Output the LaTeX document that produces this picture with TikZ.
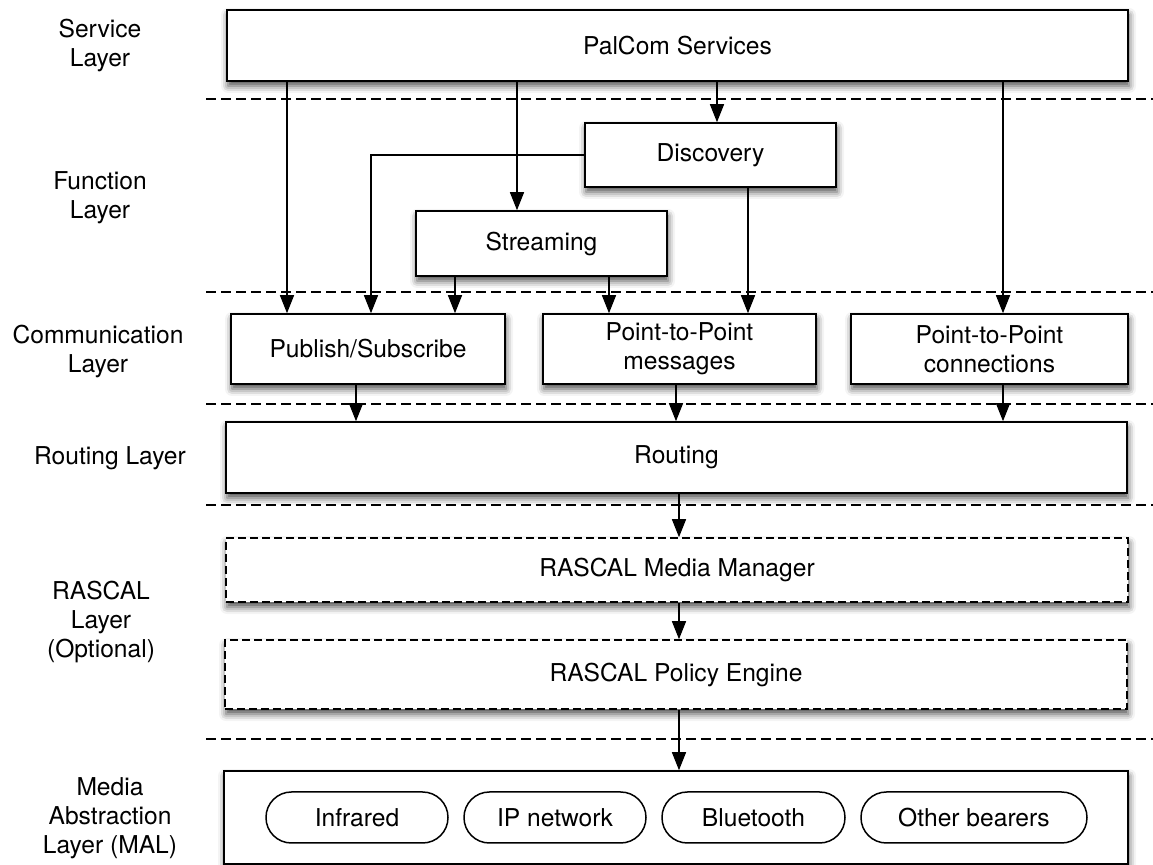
\documentclass[tikz,border=0pt]{standalone}
\usepackage{fontspec}
\setmainfont{TeX Gyre Heros}
\usetikzlibrary{arrows.meta, shadows.blur}

\tikzset{
  layerbox/.style={draw, line width=0.8pt, fill=white, inner sep=0pt, align=center,
    blur shadow={shadow xshift=0.5pt, shadow yshift=-2.5pt, shadow blur radius=3.5pt, shadow opacity=70}},
  optbox/.style={layerbox, dash pattern=on 4pt off 2pt},
  bearer/.style={draw, line width=0.75pt, rounded corners=12.7pt, minimum height=25.5pt, inner sep=0pt},
  layerlabel/.style={align=center},
  sep/.style={line width=0.7pt, dash pattern=on 5pt off 2.5pt},
  arr/.style={line width=0.75pt, -{Triangle[length=9pt,width=7pt]}}
}

\begin{document}
\begin{tikzpicture}[x=0.5pt, y=-0.5pt, font=\fontsize{12.3}{14.5}\selectfont]
			\useasboundingbox (0,0) rectangle (1153,865);
			
			% layer labels
			\node[layerlabel] at(100,46) (lsvc) {Service\\Layer};
			\node[layerlabel] at(100,198) (lfun) {Function\\Layer};
			\node[layerlabel] at(98,351) (lcom) {Communication\\Layer};
			\node[layerlabel] at(110,458) (lrout) {Routing Layer};
			\node[layerlabel] at(101,622) (lras) {RASCAL\\Layer\\(Optional)};
			\node[layerlabel] at(110,818) (lmal) {Media\\Abstraction\\Layer (MAL)};
			
			% boxes
			\node[layerbox, minimum width=450.5pt, minimum height=35.5pt] at(677.5,45.5) (svc) {PalCom Services};
			\node[layerbox, minimum width=125.5pt, minimum height=32pt] at(710.5,155) (disc) {Discovery};
			\node[layerbox, minimum width=125.5pt, minimum height=32.5pt] at(541.5,243.5) (strm) {Streaming};
			\node[layerbox, minimum width=137pt, minimum height=35pt] at(368,349) (pubsub) {Publish/Subscribe};
			\node[layerbox, minimum width=136.5pt, minimum height=35pt] at(679.5,349) (ptpmsg) {Point-to-Point\\messages};
			\node[layerbox, minimum width=138.5pt, minimum height=35pt] at(989.5,349) (ptpconn) {Point-to-Point\\connections};
			\node[layerbox, minimum width=450.5pt, minimum height=35.5pt] at(676.5,457.5) (rout) {Routing};
			\node[optbox, minimum width=451pt, minimum height=32pt] at(677,570) (rmm) {RASCAL Media Manager};
			\node[optbox, minimum width=451pt, minimum height=34.5pt] at(676,674.5) (rpe) {RASCAL Policy Engine};
			\node[layerbox, minimum width=452pt, minimum height=46.5pt] at(676,817.5) (mal) {};
			
			\node[bearer, minimum width=91pt] at(357,817.5) (ir) {Infrared};
			\node[bearer, minimum width=91pt] at(555,817.5) (ip) {IP network};
			\node[bearer, minimum width=91.5pt] at(753.5,817.5) (bt) {Bluetooth};
			\node[bearer, minimum width=113pt] at(974,817.5) (other) {Other bearers};
			
			% layer separators
			\foreach \y in {99,292,404,505,739}
				\draw[sep] (206,\y) -- (1153,\y);
			
			% arrow columns
			\coordinate (c1) at (287,0);
			\coordinate (c2) at (371,0);
			\coordinate (c3) at (455,0);
			\coordinate (c4) at (517,0);
			\coordinate (c5) at (609,0);
			\coordinate (c6) at (717,0);
			\coordinate (c7) at (748,0);
			\coordinate (c8) at (1003,0);
			\coordinate (c9) at (356,0);
			\coordinate (c10) at (676,0);
			\coordinate (c11) at (679,0);
			
			\draw[arr] (svc.south -| c1) -- (pubsub.north -| c1);
			\draw[arr] (svc.south -| c4) -- (strm.north -| c4);
			\draw[arr] (svc.south -| c6) -- (disc.north -| c6);
			\draw[arr] (svc.south -| c8) -- (ptpconn.north -| c8);
			\draw[arr] (disc.west) -| (pubsub.north -| c2);
			\draw[arr] (disc.south -| c7) -- (ptpmsg.north -| c7);
			\draw[arr] (strm.south -| c3) -- (pubsub.north -| c3);
			\draw[arr] (strm.south -| c5) -- (ptpmsg.north -| c5);
			\draw[arr] (pubsub.south -| c9) -- (rout.north -| c9);
			\draw[arr] (ptpmsg.south -| c10) -- (rout.north -| c10);
			\draw[arr] (ptpconn.south -| c8) -- (rout.north -| c8);
			\draw[arr] (rout.south -| c11) -- (rmm.north -| c11);
			\draw[arr] (rmm.south -| c11) -- (rpe.north -| c11);
			\draw[arr] (rpe.south -| c11) -- (mal.north -| c11);
			\end{tikzpicture}
\end{document}
